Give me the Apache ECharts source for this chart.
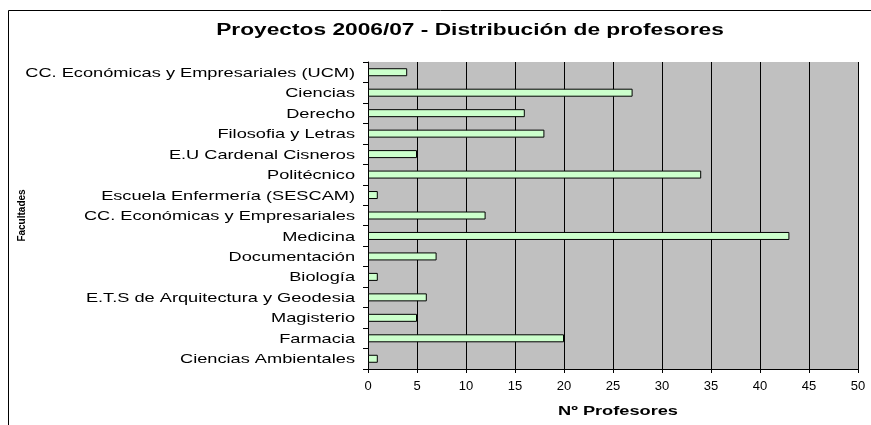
<!DOCTYPE html>
<html>
<head>
<meta charset="utf-8">
<script src="https://cdn.jsdelivr.net/npm/echarts@6/dist/echarts.min.js"></script>
<style>
  html, body { margin: 0; padding: 0; background: #fff; }
  #chart { width: 871px; height: 425px; }
</style>
</head>
<body>
<div id="chart"></div>
<script>
var facultades = [
    'CC. Económicas y Empresariales (UCM)',
    'Ciencias',
    'Derecho',
    'Filosofia y Letras',
    'E.U Cardenal Cisneros',
    'Politécnico',
    'Escuela Enfermería (SESCAM)',
    'CC. Económicas y Empresariales',
    'Medicina',
    'Documentación',
    'Biología',
    'E.T.S de Arquitectura y Geodesia',
    'Magisterio',
    'Farmacia',
    'Ciencias Ambientales'
];
var profesores = [4, 27, 16, 18, 5, 34, 1, 12, 43, 7, 1, 6, 5, 20, 1];
var titulo = 'Proyectos 2006/07 - Distribución de profesores';
var nombreX = 'Nº Profesores';
var nombreY = 'Facultades';

var chart = echarts.init(document.getElementById('chart'));
var font = 'Liberation Sans, Arial, sans-serif';
// el original tiene el texto estirado en horizontal
var estirar = 1.4;

var option = {
    animation: false,
    textStyle: { fontFamily: font },
    grid: {
        left: 368,
        top: 62,
        width: 490,
        height: 307,
        containLabel: false
    },
    xAxis: {
        type: 'value',
        min: 0,
        max: 50,
        interval: 5,
        axisLine: { show: true, lineStyle: { color: '#000', width: 1 } },
        axisTick: { show: true, length: 4, lineStyle: { color: '#000' } },
        axisLabel: { fontSize: 13, color: '#000', margin: 11 },
        splitLine: { show: true, lineStyle: { color: '#000', width: 1 } }
    },
    yAxis: {
        type: 'category',
        data: facultades,
        inverse: true,
        name: nombreY,
        nameLocation: 'middle',
        nameGap: 341,
        nameRotate: 90,
        nameTextStyle: { fontSize: 10, fontWeight: 'bold', color: '#000' },
        axisLine: { show: true, lineStyle: { color: '#000', width: 1 } },
        axisTick: { show: true, length: 5, lineStyle: { color: '#000' } },
        axisLabel: { show: false },
        splitLine: { show: false }
    },
    series: [{
        type: 'bar',
        data: profesores,
        barWidth: 8,
        itemStyle: {
            color: '#ccffcc',
            borderColor: '#000',
            borderWidth: 1
        }
    }]
};

chart.setOption(option);

var textos = [{
    type: 'rect',
    shape: { x: 8.5, y: 10.5, width: 900, height: 500 },
    style: { fill: 'none', stroke: '#000', lineWidth: 1 },
    z: -1
}, {
    type: 'rect',
    shape: { x: 368, y: 62, width: 490, height: 307 },
    style: { fill: '#c0c0c0' },
    z: -1
}, {
    type: 'text',
    x: 470, y: 31,
    scaleX: 1.42,
    style: { text: titulo, align: 'center', verticalAlign: 'middle', fill: '#000',
             font: 'bold 16px ' + font }
}, {
    type: 'text',
    x: 618, y: 411,
    scaleX: estirar,
    style: { text: nombreX, align: 'center', verticalAlign: 'middle', fill: '#000',
             font: 'bold 13px ' + font }
}];

for (var i = 0; i < facultades.length; i++) {
    var py = chart.convertToPixel({ yAxisIndex: 0 }, facultades[i]);
    textos.push({
        type: 'text',
        x: 355, y: py + 1,
        scaleX: estirar,
        style: { text: facultades[i], align: 'right', verticalAlign: 'middle', fill: '#000',
                 font: '13px ' + font }
    });
}

chart.setOption({ graphic: textos });
window.onresize = chart.resize;
</script>
</body>
</html>
